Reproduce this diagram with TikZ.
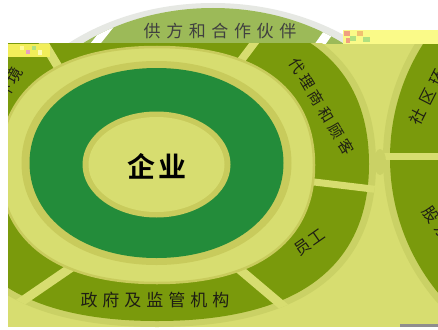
\documentclass[tikz,border=0pt]{standalone}
\usepackage{fontspec}
\newfontfamily\cjk{Noto Sans CJK SC}[BoldFont={Noto Sans CJK SC Bold}]
\definecolor{bgc}{HTML}{D7DD70}
\definecolor{olv}{HTML}{7A9A0C}
\definecolor{olvb}{HTML}{CAD165}
\definecolor{dkband}{HTML}{C8CB5C}
\definecolor{dgreen}{HTML}{238C3A}
\definecolor{topg}{HTML}{9CBA58}
\definecolor{topgrey}{HTML}{E6E8E3}
\definecolor{txt}{HTML}{1E1E14}
\definecolor{artyel}{HTML}{F2EE5A}
\definecolor{artpale}{HTML}{FAFA88}
\definecolor{artpink}{HTML}{E8A0C0}
\definecolor{artgreen}{HTML}{B0E080}
\definecolor{artorange}{HTML}{F0A080}
\definecolor{artgold}{HTML}{F0C070}
\definecolor{artgrey}{HTML}{8E8E8E}
\newcommand\sqpath[5]{(#1+#3,#2) .. controls (#1+#3,#2+#5*#4) and (#1+#5*#3,#2+#4) .. (#1,#2+#4) .. controls (#1-#5*#3,#2+#4) and (#1-#3,#2+#5*#4) .. (#1-#3,#2) .. controls (#1-#3,#2-#5*#4) and (#1-#5*#3,#2-#4) .. (#1,#2-#4) .. controls (#1+#5*#3,#2-#4) and (#1+#3,#2-#5*#4) .. (#1+#3,#2) -- cycle}
\begin{document}
\begin{tikzpicture}[x=1pt,y=-1pt,
  lbl/.style={font=\cjk\fontsize{16}{16}\selectfont, text=txt, inner sep=0pt},
  lblbig/.style={font=\cjk\fontsize{17}{17}\selectfont, text=txt, inner sep=0pt},
  gapline/.style={bgc, line width=8pt}]
\useasboundingbox (0,0) rectangle (438,329);
\fill[white] (0,0) rectangle (438,329);
% ---- top strip
\begin{scope}
  \clip (0,0) rectangle (438,44);
  \fill[topgrey] (213,170) ellipse [x radius=222, y radius=167];
  \fill[topg] (213,165) ellipse [x radius=206, y radius=157];
  \begin{scope}
    \clip (213,165) ellipse [x radius=206, y radius=157];
    \draw[white, line width=8pt] (88,53) -- (115,19);
    \draw[white, line width=9pt] (316,50) -- (340,16);
  \end{scope}
\end{scope}
\node[lblbig, text=black!75] (supp) at (220,31) {供\hspace{5.6pt}方\hspace{5.6pt}和\hspace{5.6pt}合\hspace{5.6pt}作\hspace{5.6pt}伙\hspace{5.6pt}伴};
% ---- main picture
\begin{scope}
  \clip (8,44) rectangle (438,327);
  \fill[bgc] (8,44) rectangle (438,327);
  % right diagram
  \fill[olvb] (603,158) circle [radius=220];
  \fill[olv] (603,158) circle [radius=213];
  \fill[bgc] (383,152.5) rectangle (440,159.5);
  \fill[olvb] (380,162) ellipse [x radius=6, y radius=13];
  \node[lbl, rotate=63] (comm) at (428,97) {社\hspace{6pt}区\hspace{6pt}环};
  \node[lbl, rotate=-55] (share) at (437,223) {股\hspace{4pt}东};
  % left diagram
  \fill[olvb] \sqpath{157}{164}{219}{163}{0.66};
  \fill[olv] \sqpath{157}{164}{212}{157}{0.66};
  \begin{scope}
    \clip \sqpath{157}{164}{219}{163}{0.66};
    \draw[gapline, line width=7pt] (300,180.3) -- (385,190.5);
    \draw[gapline, line width=9pt] (225,257) -- (290,312);
    \draw[gapline, line width=9pt] (85,258) -- (15,306);
    \draw[gapline] (264,30) -- (230,75);
    \draw[gapline, line width=9pt] (36,30) -- (66,80);
  \end{scope}
  \filldraw[fill=bgc, draw=dkband, line width=2.5pt] \sqpath{157}{165}{157}{118}{0.64};
  \fill[dkband] \sqpath{156.5}{163}{135}{102}{0.58};
  \fill[dgreen] \sqpath{156.5}{163}{127}{95}{0.58};
  \fill[dkband] (156.5,164.5) ellipse [x radius=74, y radius=53];
  \fill[bgc] (156.5,164.5) ellipse [x radius=68, y radius=47.5];
  \node[font=\cjk\bfseries\fontsize{28}{28}\selectfont, text=black, inner sep=0pt] (ent) at (157,166) {企\hspace{3pt}业};
  \node[lbl, font=\cjk\fontsize{15}{15}\selectfont, rotate=-59] (agent) at (321.5,106.5) {代\hspace{3.9pt}理\hspace{3.9pt}商\hspace{3.9pt}和\hspace{3.9pt}顾\hspace{3.9pt}客};
  \node[lbl, rotate=35] (staff) at (310,242) {员\hspace{1pt}工};
  \node[lblbig] (gov) at (155,300) {政\hspace{5pt}府\hspace{5pt}及\hspace{5pt}监\hspace{5pt}管\hspace{5pt}机\hspace{5pt}构};
  \node[lbl, rotate=60] (env) at (9.5,83.8) {环\hspace{2pt}境};
\end{scope}
% ---- artefact strips
\fill[artyel] (8,44) rectangle (50,57);
\fill[white!60!yellow] (20,46) rectangle (24,50);
\fill[artpink] (26,50) rectangle (30,54);
\fill[artgreen] (32,46) rectangle (36,50);
\fill[white!70!yellow] (38,50) rectangle (42,55);
\fill[artpale] (343,30) rectangle (438,44);
\fill[artorange] (344,31) rectangle (350,36);
\fill[artgreen] (350,36) rectangle (356,41);
\fill[artgold] (357,31) rectangle (363,36);
\fill[artgreen] (363,37) rectangle (370,42);
\fill[artorange] (346,38) rectangle (350,43);
\fill[artgrey] (400,324) rectangle (438,327);
\end{tikzpicture}
\end{document}
